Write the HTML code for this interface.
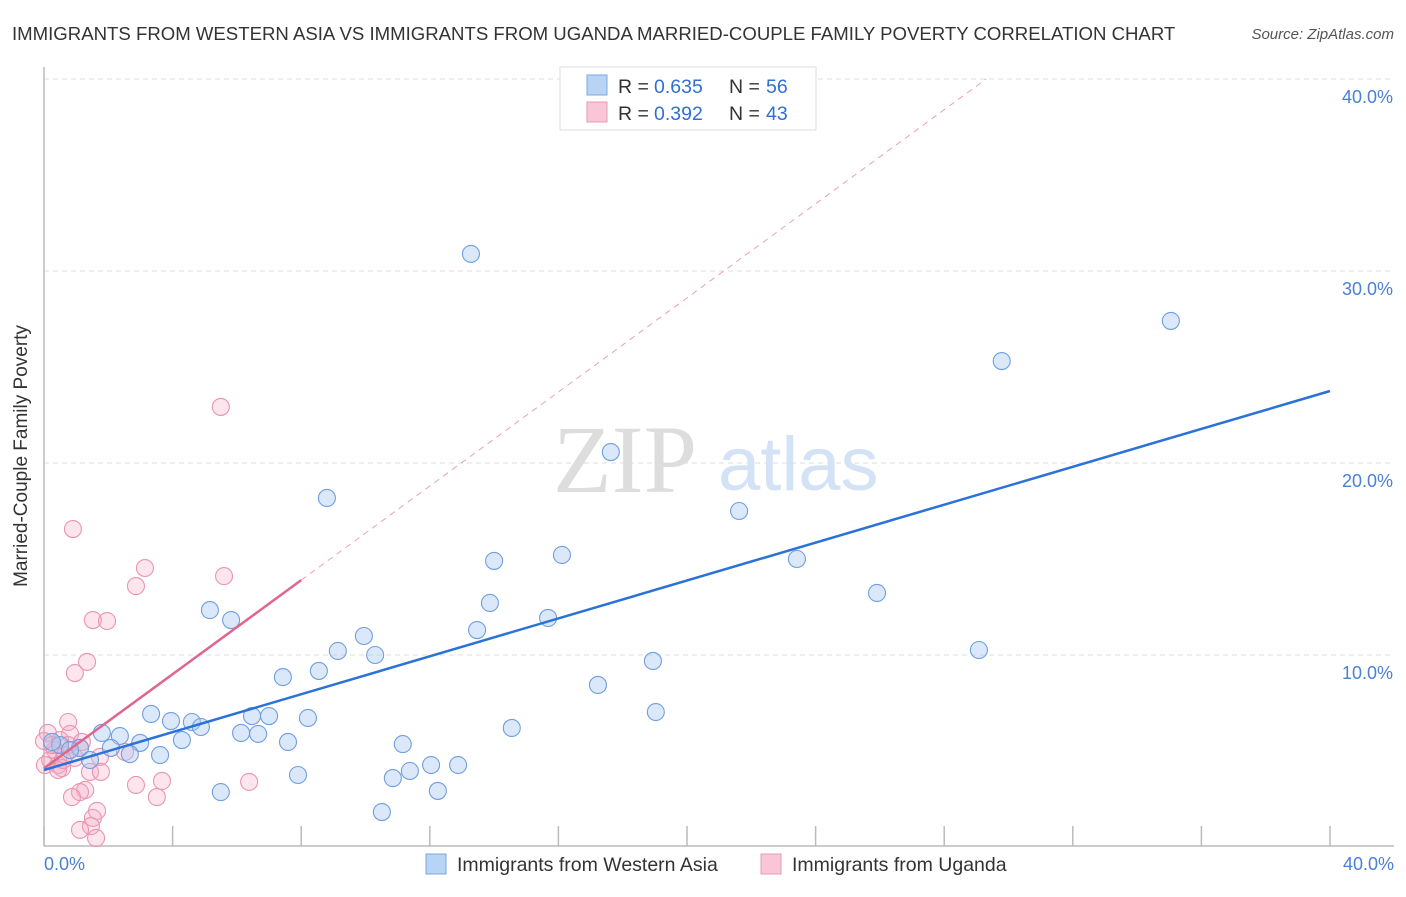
<!DOCTYPE html>
<html><head><meta charset="utf-8"><style>
body{margin:0;background:#fff;font-family:"Liberation Sans",sans-serif;}
</style></head><body>
<svg width="1406" height="892" xmlns="http://www.w3.org/2000/svg">
<text x="12" y="40" font-size="18.6" fill="#333">IMMIGRANTS FROM WESTERN ASIA VS IMMIGRANTS FROM UGANDA MARRIED-COUPLE FAMILY POVERTY CORRELATION CHART</text>
<text x="1394" y="39" font-size="15" fill="#555" font-style="italic" text-anchor="end">Source: ZipAtlas.com</text>
<g id="grid"></g>
<line x1="44" y1="67" x2="44" y2="846" stroke="#bbb" stroke-width="1.5"/>
<line x1="44" y1="846" x2="1394" y2="846" stroke="#bbb" stroke-width="1.5"/>
<text x="553" y="492" font-size="96" fill="#ddd" font-family="Liberation Serif,serif">ZIP</text>
<text x="718" y="490" font-size="76" fill="#d3e3f5">atlas</text>
<g id="ticks"></g>
<g id="pts"></g>
<g id="lines"></g>
<text x="27" y="456" font-size="19" fill="#333" transform="rotate(-90 27 456)" text-anchor="middle">Married-Couple Family Poverty</text>
<text x="44" y="870" font-size="18" fill="#4a7fd4">0.0%</text>
<text x="1394" y="870" font-size="18" fill="#4a7fd4" text-anchor="end">40.0%</text>
<g>
<rect x="560" y="67" width="256" height="63" fill="#fff" stroke="#ddd"/>
<rect x="587" y="75" width="20" height="20" fill="#b8d4f5" stroke="#7aa8e0"/>
<rect x="587" y="102" width="20" height="20" fill="#f8c6d6" stroke="#e99ab4"/>
<text x="618" y="93" font-size="19.5" fill="#333">R =</text>
<text x="654" y="93" font-size="19.5" fill="#2f6fd6">0.635</text>
<text x="729" y="93" font-size="19.5" fill="#333">N =</text>
<text x="766" y="93" font-size="19.5" fill="#2f6fd6">56</text>
<text x="618" y="120" font-size="19.5" fill="#333">R =</text>
<text x="654" y="120" font-size="19.5" fill="#2f6fd6">0.392</text>
<text x="729" y="120" font-size="19.5" fill="#333">N =</text>
<text x="766" y="120" font-size="19.5" fill="#2f6fd6">43</text>
</g>
<g>
<rect x="426" y="854" width="20" height="20" fill="#b8d4f5" stroke="#7aa8e0"/>
<text x="457" y="871" font-size="19.5" fill="#333">Immigrants from Western Asia</text>
<rect x="761" y="854" width="20" height="20" fill="#f8c6d6" stroke="#e99ab4"/>
<text x="792" y="871" font-size="19.5" fill="#333">Immigrants from Uganda</text>
</g>
</svg>
<script>
const yTicks=[10,20,30,40];
const yTickLabels=["10.0%","20.0%","30.0%","40.0%"];
const blueX=[13.28,35.05,29.79,17.63,8.80,21.62,14.00,16.11,23.42,25.91,5.16,5.82,13.87,15.68,13.47,9.95,9.14,10.30,29.08,18.94,8.55,7.43,17.23,3.33,19.03,3.95,4.60,4.88,4.29,6.47,7.00,8.21,6.13,6.66,14.55,1.80,2.36,2.99,7.59,11.16,2.08,2.67,3.61,1.12,1.43,7.90,10.85,11.38,12.04,12.88,5.50,12.25,10.51,0.50,0.81,0.25];
const blueY=[30.89,27.40,25.31,20.57,18.18,17.50,14.90,15.21,15.00,13.23,12.34,11.82,12.71,11.93,11.30,10.99,10.21,10.00,10.26,9.69,9.17,8.85,8.44,6.93,7.03,6.56,6.51,6.25,5.57,6.82,6.82,6.72,5.94,5.89,6.20,5.94,5.78,5.42,5.47,5.36,5.16,4.84,4.79,5.16,4.53,3.75,3.59,3.96,4.27,4.27,2.86,2.92,1.82,5.31,5.05,5.47];
const pinkX=[5.50,0.90,3.14,5.60,2.86,1.52,1.96,1.34,0.96,0.75,0.81,0.12,0.50,0.34,0.65,1.12,0.19,0.44,0.56,0.03,1.74,2.52,1.43,1.77,2.86,3.67,6.38,1.28,1.12,0.87,3.51,1.65,1.52,1.46,1.12,1.62,0.25,0.0,0.75,0.96,0.44,1.18,0.59];
const pinkY=[22.92,16.56,14.53,14.11,13.59,11.82,11.77,9.64,9.06,6.51,5.89,5.94,5.57,5.05,4.79,5.16,4.53,4.27,4.11,4.27,4.69,4.95,3.91,3.91,3.23,3.44,3.39,2.97,2.86,2.60,2.60,1.88,1.51,1.09,0.89,0.47,5.31,5.52,5.31,4.64,4.01,5.47,4.53];
const blueTrend=[4.01,23.75];
const pinkTrend=[4.1,1.225];
const NS="http://www.w3.org/2000/svg";
const X=v=>44+v/40*1286, Y=v=>847-v*19.2;
function mk(t,a,p){const e=document.createElementNS(NS,t);for(const k in a)e.setAttribute(k,a[k]);document.getElementById(p).appendChild(e);return e;}
yTicks.forEach((t,i)=>{
 const g=mk('line',{x1:44,x2:1394,y1:Y(t),y2:Y(t),stroke:'#ddd','stroke-dasharray':'5,4'},'grid');
 
 
 const l=mk('text',{x:1393,y:Y(t)+24,'font-size':18,fill:'#4a7fd4','text-anchor':'end'},'ticks');
 l.textContent=yTickLabels[i];
 
 
});
for(let i=0;i<=10;i++){
 const t=mk('line',{x1:X(i*4),x2:X(i*4),y1:826,y2:846,stroke:'#bbb','stroke-width':1.5},'ticks');
 
 
}
pinkX.forEach((x,i)=>{
 const c=mk('circle',{cx:X(x),cy:Y(pinkY[i]),r:8.5,fill:'rgba(245,170,195,0.3)',stroke:'#e995b2','stroke-width':1.1},'pts');
 
 
});
blueX.forEach((x,i)=>{
 const c=mk('circle',{cx:X(x),cy:Y(blueY[i]),r:8.5,fill:'rgba(165,198,240,0.4)',stroke:'#6f9fe0','stroke-width':1.1},'pts');
 
 
});
const pd=mk('line',{x1:X(8),y1:Y(pinkTrend[0]+8*pinkTrend[1]),x2:X((40-pinkTrend[0])/pinkTrend[1]),y2:Y(40),stroke:'#e8a0b8','stroke-dasharray':'6,5','stroke-width':1},'lines');


const pl=mk('line',{x1:X(0),y1:Y(pinkTrend[0]),x2:X(8),y2:Y(pinkTrend[0]+8*pinkTrend[1]),stroke:'#e06690','stroke-width':2.5},'lines');


const bl=mk('line',{x1:X(0),y1:Y(blueTrend[0]),x2:X(40),y2:Y(blueTrend[1]),stroke:'#2a72d8','stroke-width':2.5},'lines');


</script>
</body></html>
